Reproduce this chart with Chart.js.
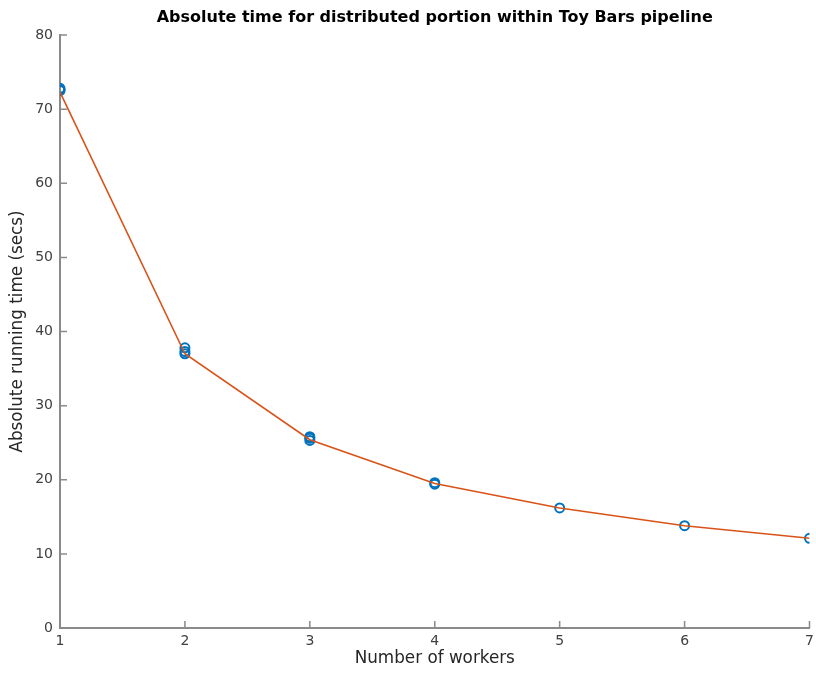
<!DOCTYPE html>
<html>
<head>
<meta charset="utf-8">
<script src="https://cdn.jsdelivr.net/npm/chart.js@4"></script>
<style>
html,body{margin:0;padding:0;background:#fff;}
#wrap{width:816px;height:673px;}
</style>
</head>
<body>
<div id="wrap"><canvas id="c" width="816" height="673"></canvas></div>
<script>
const workers = [1, 2, 3, 4, 5, 6, 7];
const runs = [
  [72.5, 72.8, 72.6],
  [37.0, 37.3, 37.8],
  [25.3, 25.6, 25.8],
  [19.4, 19.6],
  [16.2],
  [13.8],
  [12.1]
];
const meanTimes = [72.3, 37.0, 25.4, 19.5, 16.2, 13.8, 12.1];
const yTicks = [0, 10, 20, 30, 40, 50, 60, 70, 80];
const title = 'Absolute time for distributed portion within Toy Bars pipeline';
const xTitle = 'Number of workers';
const yTitle = 'Absolute running time (secs)';

const scatterPts = [];
workers.forEach((w, i) => runs[i].forEach(v => scatterPts.push({x: w, y: v})));
const linePts = workers.map((w, i) => ({x: w, y: meanTimes[i]}));

const FONT = '"DejaVu Sans", "Liberation Sans", Arial, sans-serif';

const decor = {
  id: 'decor',
  afterDraw(chart) {
    const ctx = chart.ctx;
    const xs = chart.scales.x, ys = chart.scales.y;
    const a = chart.chartArea;
    ctx.save();
    ctx.strokeStyle = '#8a8a8a';
    ctx.lineWidth = 1.5;
    ctx.beginPath();
    yTicks.forEach(v => {
      const py = ys.getPixelForValue(v);
      ctx.moveTo(a.left, py); ctx.lineTo(a.left + 7, py);
    });
    workers.forEach(v => {
      const px = xs.getPixelForValue(v);
      ctx.moveTo(px, a.bottom); ctx.lineTo(px, a.bottom - 7);
    });
    ctx.stroke();
    ctx.fillStyle = '#000';
    ctx.font = 'bold 16px ' + FONT;
    ctx.textAlign = 'center';
    ctx.textBaseline = 'middle';
    ctx.fillText(title, (a.left + a.right) / 2, 18);
    ctx.restore();
  }
};

new Chart(document.getElementById('c'), {
  type: 'scatter',
  data: {
    datasets: [
      {
        type: 'line',
        data: linePts,
        borderColor: '#D95319',
        borderWidth: 1.6,
        pointRadius: 0,
        fill: false,
        tension: 0
      },
      {
        type: 'scatter',
        data: scatterPts,
        borderColor: '#0072BD',
        backgroundColor: 'rgba(0,0,0,0)',
        borderWidth: 2,
        pointRadius: 4.5,
        pointStyle: 'circle'
      }
    ]
  },
  options: {
    responsive: false,
    animation: false,
    devicePixelRatio: 1,
    layout: {padding: {top: 35, right: 6, left: 0, bottom: 0}},
    plugins: {legend: {display: false}, tooltip: {enabled: false}, title: {display: false}},
    scales: {
      x: {
        type: 'linear', min: 1, max: 7,
        grid: {display: false, drawTicks: false},
        border: {display: true, color: '#8a8a8a', width: 2},
        ticks: {stepSize: 1, color: '#404040', font: {family: FONT, size: 14}, padding: 5},
        title: {display: true, text: xTitle, color: '#262626', font: {family: FONT, size: 16.8}, padding: {top: 0, bottom: 4}},
        afterFit(s) { s.height = 45; s.paddingRight = 0; s.paddingLeft = 0; }
      },
      y: {
        type: 'linear', min: 0, max: 80,
        grid: {display: false, drawTicks: false},
        border: {display: true, color: '#8a8a8a', width: 2},
        ticks: {stepSize: 10, color: '#404040', font: {family: FONT, size: 14}, padding: 7},
        title: {display: true, text: yTitle, color: '#262626', font: {family: FONT, size: 16.8}, padding: {top: 8, bottom: 0}},
        afterFit(s) { s.width = 60; }
      }
    }
  },
  plugins: [decor]
});
</script>
</body>
</html>
